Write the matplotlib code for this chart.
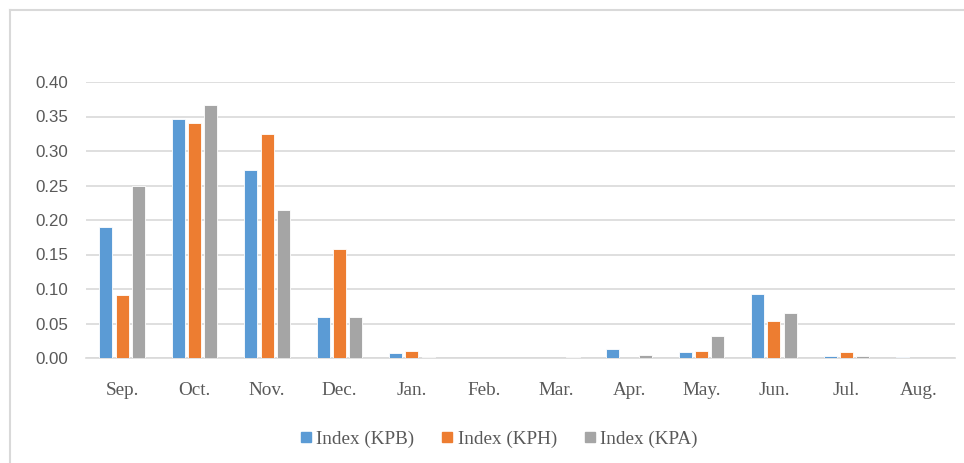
import matplotlib
matplotlib.use("Agg")
import matplotlib.pyplot as plt
import numpy as np
from matplotlib.lines import Line2D

months = ["Sep.", "Oct.", "Nov.", "Dec.", "Jan.", "Feb.", "Mar.", "Apr.", "May.", "Jun.", "Jul.", "Aug."]
kpb = [0.190, 0.346, 0.273, 0.059, 0.007, 0.0, 0.0, 0.013, 0.009, 0.093, 0.003, 0.001]
kph = [0.091, 0.340, 0.324, 0.158, 0.010, 0.0, 0.0, 0.0, 0.010, 0.054, 0.009, 0.0]
kpa = [0.249, 0.366, 0.215, 0.060, 0.002, 0.0, 0.001, 0.005, 0.032, 0.065, 0.003, 0.0005]
series_names = ["Index (KPB)", "Index (KPH)", "Index (KPA)"]
colors = ["#5B9BD5", "#ED7D31", "#A5A5A5"]
yticks = [0.00, 0.05, 0.10, 0.15, 0.20, 0.25, 0.30, 0.35, 0.40]

fig = plt.figure(figsize=(9.64, 4.63), dpi=100)
ax = fig.add_axes([86/964, 1-358/463, (955-86)/964, (358-82)/463])

x = np.arange(len(months))
w = 0.18
off = 0.225
for i, (vals, c, name) in enumerate(zip([kpb, kph, kpa], colors, series_names)):
    ax.bar(x + (i-1)*off, vals, width=w, color=c, edgecolor="white", linewidth=0.6, label=name, zorder=3)

ax.set_xlim(-0.5, len(months)-0.5)
ax.set_ylim(0, 0.40)
ax.set_yticks(yticks)
ax.set_yticklabels([f"{v:.2f}" for v in yticks], fontsize=12.2, color="#595959", family="Liberation Sans")
ax.set_xticks(x)
ax.set_xticklabels(months, fontsize=13.8, color="#595959", family="Liberation Serif")
ax.tick_params(axis="both", length=0)
ax.tick_params(axis="y", pad=13)
ax.tick_params(axis="x", pad=17)
ax.grid(axis="y", color="#D9D9D9", linewidth=1.2, zorder=0)
for s in ["top", "right", "left"]:
    ax.spines[s].set_visible(False)
ax.spines["bottom"].set_color("#D9D9D9")
ax.spines["bottom"].set_linewidth(1.2)

handles = [Line2D([0], [0], marker="s", linestyle="none", markersize=7.5, markerfacecolor=c, markeredgecolor=c) for c in colors]
fig.legend(handles, series_names, loc="center", bbox_to_anchor=(497/964, 1-439/463), ncol=3, frameon=False,
           prop={"family": "Liberation Serif", "size": 13.8}, labelcolor="#595959",
           handletextpad=0.05, columnspacing=1.2, handlelength=1.0)

# chart border (top and left visible)
fig.add_artist(Line2D([10/964, 10/964], [0, 1-10/463], transform=fig.transFigure, color="#D9D9D9", linewidth=1.5))
fig.add_artist(Line2D([10/964, 1], [1-10/463, 1-10/463], transform=fig.transFigure, color="#D9D9D9", linewidth=1.5))

fig.savefig("out.png", dpi=100)
